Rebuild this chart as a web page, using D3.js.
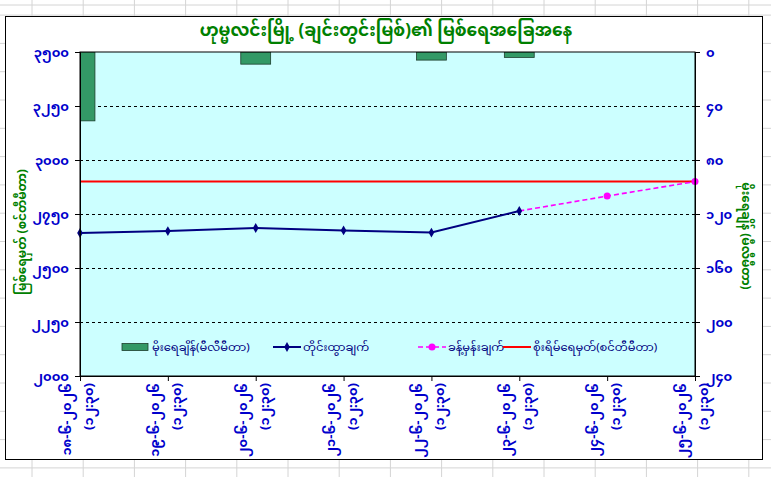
<!DOCTYPE html>
<html>
<head>
<meta charset="utf-8">
<script src="https://cdn.jsdelivr.net/npm/d3@7"></script>
<style>
  body { margin: 0; background: #fff; }
  text { font-family: "Noto Sans Myanmar", "Padauk", "Myanmar Text", "Noto Sans", sans-serif; }
</style>
</head>
<body>
<script>
// chart data
var dates = ["၁၈-၆-၂၀၂၆", "၁၉-၆-၂၀၂၆", "၂၀-၆-၂၀၂၆", "၂၁-၆-၂၀၂၆", "၂၂-၆-၂၀၂၆", "၂၃-၆-၂၀၂၆", "၂၄-၆-၂၀၂၆", "၂၅-၆-၂၀၂၆"];
var times = ["(၁၂:၃၀)", "(၁၂:၃၀)", "(၁၂:၃၀)", "(၁၂:၃၀)", "(၁၂:၃၀)", "(၁၂:၃၀)", "(၁၂:၃၀)", "(၁၂:၃၀)"];
var rainfall = [51, 0, 9, 0, 6, 4, null, null];          // mm, right axis
var observed = [2662, 2671, 2685, 2674, 2664, 2764, null, null]; // cm
var forecast = [null, null, null, null, null, 2764, 2833, 2900];
var dangerLevel = 2900;
var leftTicks = [2000, 2250, 2500, 2750, 3000, 3250, 3500];
var rightTicks = [0, 40, 80, 120, 160, 200, 240];
var seriesNames = ["မိုးရေချိန်(မီလီမီတာ)", "တိုင်းထွာချက်", "ခန့်မှန်းချက်", "စိုးရိမ်ရေမှတ်(စင်တီမီတာ)"];

var mmDigits = "၀၁၂၃၄၅၆၇၈၉";
function toMM(n) { return String(n).replace(/[0-9]/g, c => mmDigits[+c]); }

var W = 771, H = 477;
var margin = {top: 52, right: 76, bottom: 101, left: 80},
    width = W - margin.left - margin.right,
    height = H - margin.top - margin.bottom;

const svg = d3.select('body')
    .append("svg")
        .attr("width", W)
        .attr("height", H)

// spreadsheet grid behind the chart
var gridG = svg.append("g").attr("stroke", "#d4d4d4").attr("stroke-width", 1);
d3.range(32, W, 51.2).forEach(x => gridG.append("line").attr("x1", x).attr("x2", x).attr("y1", 0).attr("y2", H));
[5].concat(d3.range(15.1, H, 28.3)).forEach(y => gridG.append("line").attr("x1", 0).attr("x2", W).attr("y1", y).attr("y2", y));

// chart area
svg.append("rect")
    .attr("x", 5.5).attr("y", 16.5)
    .attr("width", 757).attr("height", 443)
    .attr("fill", "#fff").attr("stroke", "#000").attr("stroke-width", 1)

svg.append("text")
    .attr("x", 386).attr("y", 36)
    .attr("text-anchor", "middle")
    .attr("font-size", 17).attr("font-weight", "bold")
    .attr("fill", "#008000")
    .text("ဟုမ္မလင်းမြို့ (ချင်းတွင်းမြစ်)၏ မြစ်ရေအခြေအနေ")

const g = svg.append("g").attr("transform", `translate(${margin.left},${margin.top})`);

const x = d3.scalePoint()
    .domain(dates)
    .range([0, width]);

const yL = d3.scaleLinear()
    .domain([2000, 3500])
    .range([height, 0]);

const yR = d3.scaleLinear()
    .domain([0, 240])
    .range([0, height]);

g.append("rect")
    .attr("width", width).attr("height", height)
    .attr("fill", "#CCFFFF")

g.append("clipPath").attr("id", "plotclip")
    .append("rect").attr("width", width).attr("height", height);

// dashed gridlines
g.selectAll(".grid").data(leftTicks.slice(1, -1)).enter().append("line")
    .attr("x1", 0).attr("x2", width)
    .attr("y1", d => Math.round(yL(d)) + 0.5).attr("y2", d => Math.round(yL(d)) + 0.5)
    .attr("stroke", "#000").attr("stroke-dasharray", "3,3").attr("stroke-width", 1)

// rainfall bars, hanging from the top
var barW = x.step() * 0.34;
const bars = g.append("g").attr("clip-path", "url(#plotclip)");
bars.selectAll("rect").data(dates.map((d, i) => ({date: d, v: rainfall[i]})).filter(d => d.v))
    .enter().append("rect")
    .attr("x", d => x(d.date) - barW / 2)
    .attr("y", yR(0))
    .attr("width", barW)
    .attr("height", d => yR(d.v) - yR(0))
    .attr("fill", "#339966").attr("stroke", "#1c3d2c").attr("stroke-width", 0.8)

// danger level
g.append("line")
    .attr("x1", 0).attr("x2", width)
    .attr("y1", yL(dangerLevel)).attr("y2", yL(dangerLevel))
    .attr("stroke", "#FF0000").attr("stroke-width", 2)

// forecast line
var fcData = dates.map((d, i) => ({date: d, v: forecast[i]})).filter(d => d.v != null);
g.append("path").datum(fcData)
    .attr("fill", "none").attr("stroke", "#FF00FF").attr("stroke-width", 1.6)
    .attr("stroke-dasharray", "5,3")
    .attr("d", d3.line().x(d => x(d.date)).y(d => yL(d.v)))
g.selectAll(".fc").data(fcData.slice(1)).enter().append("circle")
    .attr("cx", d => x(d.date)).attr("cy", d => yL(d.v)).attr("r", 3.5)
    .attr("fill", "#FF00FF")

// observed line
var obData = dates.map((d, i) => ({date: d, v: observed[i]})).filter(d => d.v != null);
g.append("path").datum(obData)
    .attr("fill", "none").attr("stroke", "#000080").attr("stroke-width", 2)
    .attr("d", d3.line().x(d => x(d.date)).y(d => yL(d.v)))
g.selectAll(".ob").data(obData).enter().append("path")
    .attr("transform", d => `translate(${x(d.date)},${yL(d.v)})`)
    .attr("d", d3.symbol(d3.symbolDiamond, 28))
    .attr("fill", "#000080")

g.append("rect")
    .attr("width", width).attr("height", height)
    .attr("fill", "none").attr("stroke", "#000").attr("stroke-width", 1)

// axes
const axisColor = "#0000CC";
var leftAxis = g.append("g")
    .call(d3.axisLeft(yL).tickValues(leftTicks).tickSize(5).tickFormat(toMM));
var rightAxis = g.append("g").attr("transform", `translate(${width},0)`)
    .call(d3.axisRight(yR).tickValues(rightTicks).tickSize(5).tickFormat(toMM));
var bottomAxis = g.append("g").attr("transform", `translate(0,${height})`)
    .call(d3.axisBottom(x).tickSize(5).tickFormat(""));
[leftAxis, rightAxis, bottomAxis].forEach(a => {
    a.select(".domain").attr("stroke", "#000");
    a.selectAll(".tick line").attr("stroke", "#000");
    a.selectAll("text").attr("fill", axisColor).attr("font-size", 13).attr("font-weight", "bold");
});
leftAxis.selectAll("text").attr("x", -11);
rightAxis.selectAll("text").attr("x", 11);

// two-line rotated date labels
var xl = g.append("g").attr("transform", `translate(0,${height})`);
dates.forEach((d, i) => {
    var lg = xl.append("g").attr("transform", `translate(${x(d)},7) rotate(-90)`)
    lg.append("text").attr("x", 0).attr("y", -9)
        .attr("text-anchor", "end").attr("font-size", 13).attr("font-weight", "bold")
        .attr("fill", axisColor).text(d)
    lg.append("text").attr("x", 0).attr("y", 13)
        .attr("text-anchor", "end").attr("font-size", 13).attr("font-weight", "bold")
        .attr("fill", axisColor).text(times[i])
});

// axis titles
svg.append("text")
    .attr("transform", "translate(26,232) rotate(-90)")
    .attr("text-anchor", "middle").attr("font-size", 12).attr("font-weight", "bold")
    .attr("fill", "#008000")
    .text("မြစ်ရေမှတ် (စင်တီမီတာ)")
svg.append("text")
    .attr("transform", "translate(742,236) rotate(90)")
    .attr("text-anchor", "middle").attr("font-size", 12).attr("font-weight", "bold")
    .attr("fill", "#008000")
    .text("မိုးရေချိန် (မီလီမီတာ)")

// legend
var legX = [42, 193, 338, 423];
var lg = g.append("g").attr("transform", `translate(0,${height - 29})`);
seriesNames.forEach((name, i) => {
    var e = lg.append("g").attr("transform", `translate(${legX[i]},0)`);
    if (i == 0) {
        e.append("rect").attr("x", 0).attr("y", -3.5).attr("width", 26).attr("height", 7)
            .attr("fill", "#339966").attr("stroke", "#1c3d2c").attr("stroke-width", 0.8);
    } else if (i == 1) {
        e.append("line").attr("x1", 0).attr("x2", 28).attr("stroke", "#000080").attr("stroke-width", 2);
        e.append("path").attr("transform", "translate(14,0)").attr("d", d3.symbol(d3.symbolDiamond, 28)).attr("fill", "#000080");
    } else if (i == 2) {
        e.append("line").attr("x1", 0).attr("x2", 28).attr("stroke", "#FF00FF").attr("stroke-width", 1.6).attr("stroke-dasharray", "5,3");
        e.append("circle").attr("cx", 14).attr("r", 3.5).attr("fill", "#FF00FF");
    } else {
        e.append("line").attr("x1", 0).attr("x2", 28).attr("stroke", "#FF0000").attr("stroke-width", 2);
    }
    e.append("text").attr("x", 30).attr("y", 4)
        .attr("font-size", 11.5).attr("fill", "#000080")
        .text(name);
});
</script>
</body>
</html>
